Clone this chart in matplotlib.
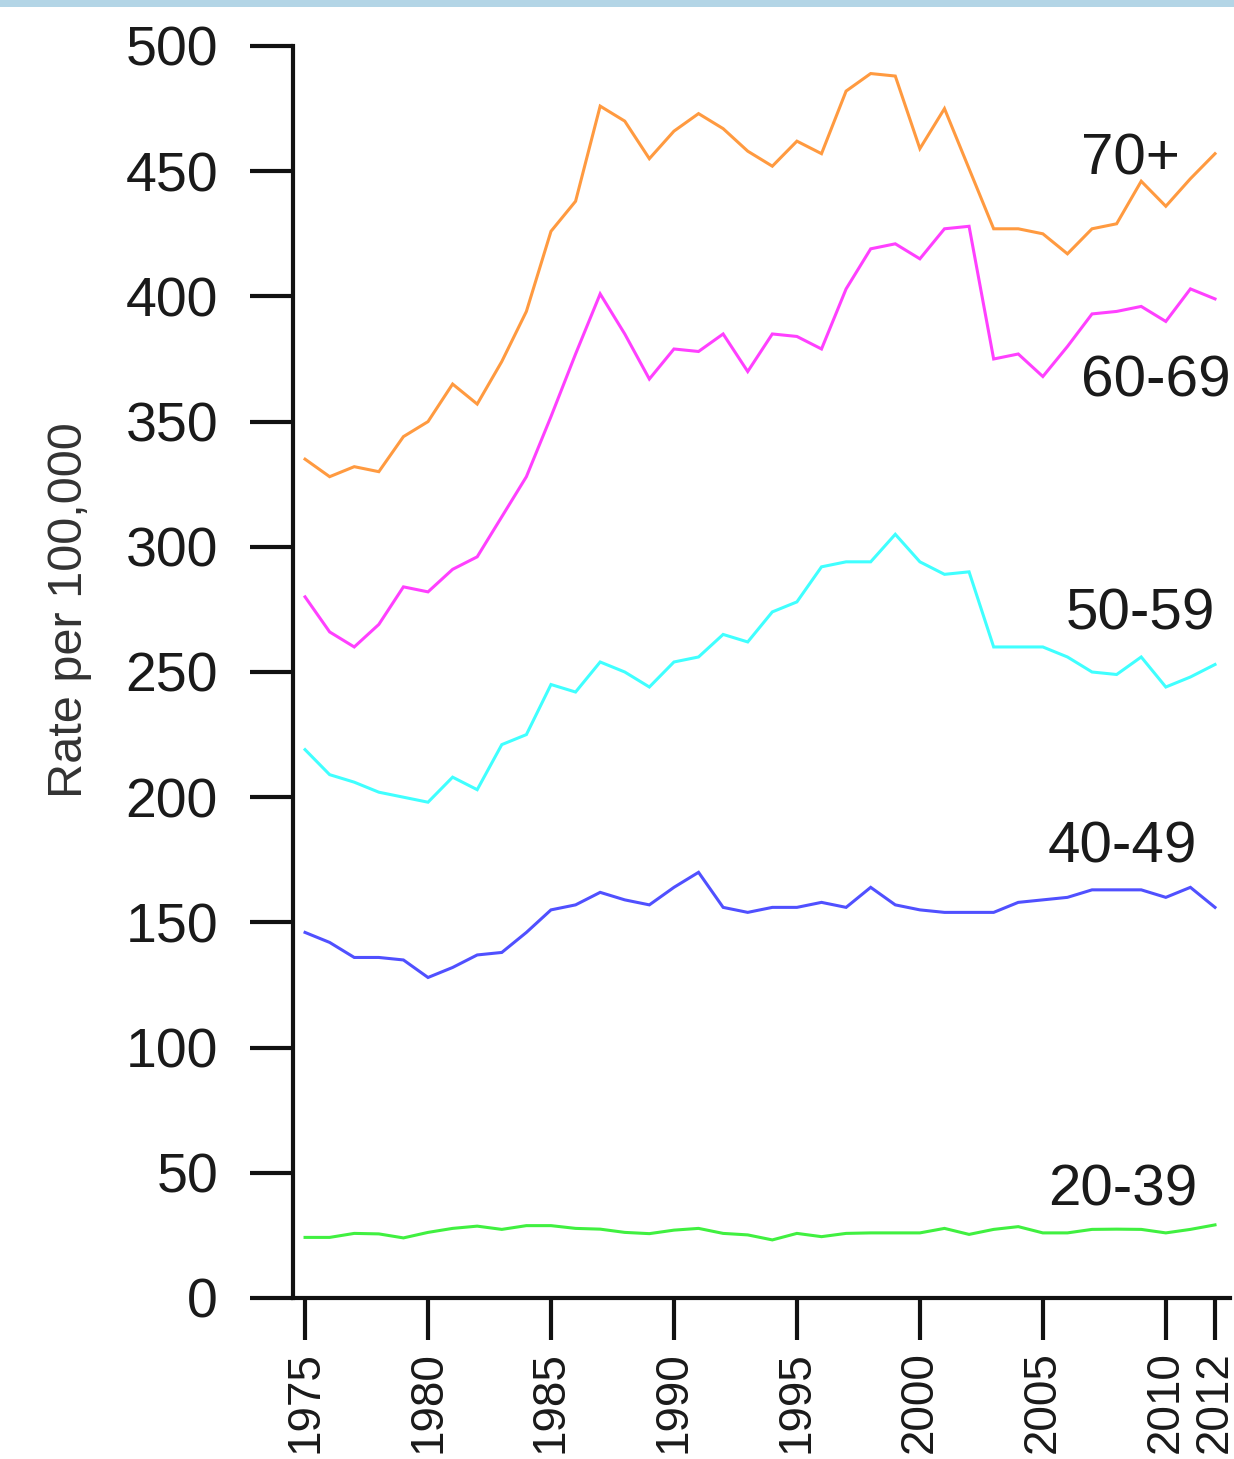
import matplotlib
matplotlib.use("Agg")
import matplotlib.pyplot as plt
from matplotlib.patches import Rectangle

plt.rcParams['font.family'] = ['Liberation Sans', 'DejaVu Sans']

years = list(range(1975, 2013))
rate_70plus = [335, 328, 332, 330, 344, 350, 365, 357, 374, 394,
               426, 438, 476, 470, 455, 466, 473, 467, 458, 452,
               462, 457, 482, 489, 488, 459, 475, 451, 427, 427,
               425, 417, 427, 429, 446, 436, 447, 457]
rate_60_69 = [280, 266, 260, 269, 284, 282, 291, 296, 312, 328,
              352, 377, 401, 385, 367, 379, 378, 385, 370, 385,
              384, 379, 403, 419, 421, 415, 427, 428, 375, 377,
              368, 380, 393, 394, 396, 390, 403, 399]
rate_50_59 = [219, 209, 206, 202, 200, 198, 208, 203, 221, 225,
              245, 242, 254, 250, 244, 254, 256, 265, 262, 274,
              278, 292, 294, 294, 305, 294, 289, 290, 260, 260,
              260, 256, 250, 249, 256, 244, 248, 253]
rate_40_49 = [146, 142, 136, 136, 135, 128, 132, 137, 138, 146,
              155, 157, 162, 159, 157, 164, 170, 156, 154, 156,
              156, 158, 156, 164, 157, 155, 154, 154, 154, 158,
              159, 160, 163, 163, 163, 160, 164, 156]
rate_20_39 = [24.2, 24.2, 25.8, 25.6, 24.0, 26.2, 27.8, 28.7, 27.4, 28.9,
              28.9, 27.8, 27.5, 26.2, 25.7, 27.1, 27.8, 25.8, 25.2, 23.2,
              25.8, 24.5, 25.8, 26.0, 26.0, 26.0, 27.8, 25.4, 27.4, 28.5,
              26.0, 26.0, 27.4, 27.5, 27.4, 26.0, 27.4, 29.2]

series_labels = ["70+", "60-69", "50-59", "40-49", "20-39"]
series_values = [rate_70plus, rate_60_69, rate_50_59, rate_40_49, rate_20_39]
series_colors = ["#ff9a40", "#ff40ff", "#40ffff", "#5050ff", "#40f040"]
label_pos = [(2008.55, 448.5), (2009.6, 360), (2008.98, 267), (2008.25, 174), (2008.25, 37)]

xtick_vals = [1975, 1980, 1985, 1990, 1995, 2000, 2005, 2010, 2012]
ytick_vals = list(range(0, 501, 50))

W, H = 1234, 1459
fig = plt.figure(figsize=(W / 100, H / 100), dpi=100)
fig.patch.set_facecolor("white")
fig.patches.append(Rectangle((0, 1 - 7 / H), 1, 7 / H, transform=fig.transFigure,
                             facecolor="#b3d5e6", edgecolor="none"))

left, right = 293 / W, 1230 / W
bottom, top = 1 - 1298 / H, 1 - 46 / H
ax = fig.add_axes([left, bottom, right - left, top - bottom])

for vals, col in zip(series_values, series_colors):
    ax.plot(years, vals, color=col, lw=2.2, solid_joinstyle="miter", clip_on=False)

for lab, (lx, ly) in zip(series_labels, label_pos):
    ax.text(lx, ly, lab, fontsize=42, color="#1a1a1a", ha="center", va="baseline")

ax.set_xlim(1974.51, 2012.61)
ax.set_ylim(0, 500)
ax.set_xticks(xtick_vals)
ax.set_xticklabels([str(v) for v in xtick_vals], rotation=90, fontsize=33, color="#1a1a1a")
ax.set_yticks(ytick_vals)
ax.set_yticklabels([str(v) for v in ytick_vals], fontsize=40, color="#1a1a1a")
ax.tick_params(axis="y", length=31, width=3, pad=23, direction="out", color="#111111")
ax.tick_params(axis="x", length=30, width=3, pad=8, direction="out", color="#111111")

for s in ["top", "right"]:
    ax.spines[s].set_visible(False)
for s in ["left", "bottom"]:
    ax.spines[s].set_linewidth(3)
    ax.spines[s].set_color("#111111")

fig.text(70 / W, 1 - 610 / H, "Rate per 100,000", rotation=90, fontsize=35,
         color="#333333", ha="center", va="center")

fig.savefig("out.png", dpi=100, facecolor="white")
